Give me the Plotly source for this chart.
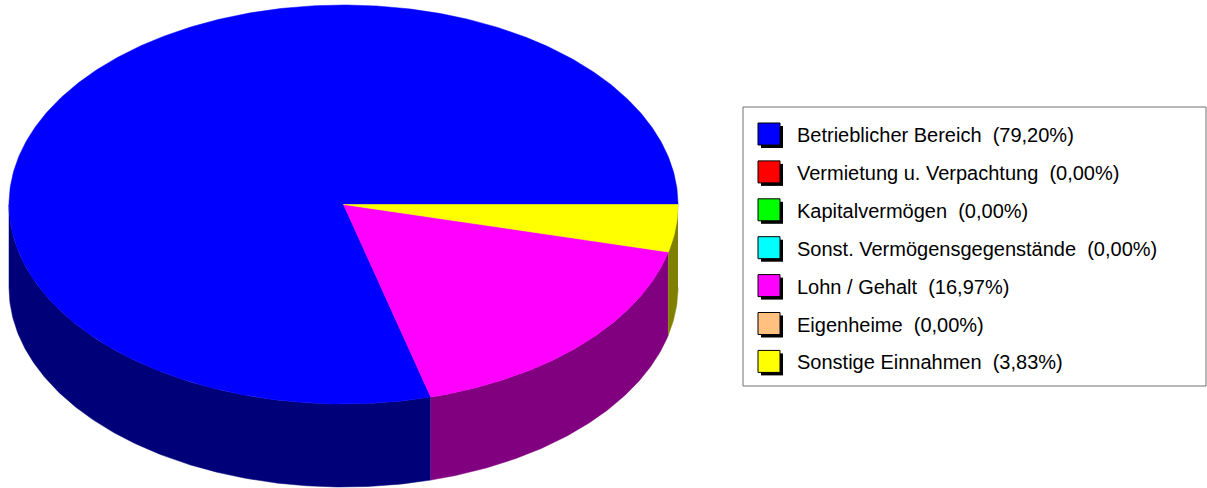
import numpy as np
import plotly.graph_objects as go

# ---- data ----
categories = ["Betrieblicher Bereich", "Vermietung u. Verpachtung", "Kapitalvermögen",
              "Sonst. Vermögensgegenstände", "Lohn / Gehalt", "Eigenheime", "Sonstige Einnahmen"]
values = [79.20, 0.00, 0.00, 0.00, 16.97, 0.00, 3.83]
top_colors = ["#0000FF", "#FF0000", "#00FF00", "#00FFFF", "#FF00FF", "#FFC080", "#FFFF00"]
side_colors = ["#000078", "#800000", "#008000", "#008080", "#800080", "#806040", "#808000"]

# ---- geometry (pixel space) ----
W, H = 1207, 488
cx, cy, rx, ry, depth = 343.5, 204.5, 334.5, 199.5, 83

fig = go.Figure()
total = sum(values)
fracs = [v / total for v in values]
cum = np.concatenate([[0], np.cumsum(fracs)])

def arc(t0, t1, n=None):
    if n is None:
        n = max(2, int(abs(t1 - t0) * 2) + 2)
    t = np.radians(np.linspace(t0, t1, n))
    return cx + rx * np.cos(t), cy + ry * np.sin(t)

# side walls (visible front half: 0..180 deg in screen param)
for i, f in enumerate(fracs):
    if f <= 0:
        continue
    a = -cum[i + 1] * 360
    b = -cum[i] * 360
    for shift in (360, 720, 0):
        lo, hi = max(a + shift, 0), min(b + shift, 180)
        if hi > lo:
            xs, ys = arc(lo, hi)
            px = np.concatenate([xs, xs[::-1]])
            py = np.concatenate([ys, ys[::-1] + depth])
            fig.add_trace(go.Scatter(x=px, y=py, fill="toself", mode="lines",
                                     line=dict(color=side_colors[i], width=0.5),
                                     fillcolor=side_colors[i], hoverinfo="skip",
                                     showlegend=False))

# top sectors
for i, f in enumerate(fracs):
    if f <= 0:
        continue
    a = -cum[i + 1] * 360
    b = -cum[i] * 360
    xs, ys = arc(a, b)
    px = np.concatenate([[cx], xs, [cx]])
    py = np.concatenate([[cy], ys, [cy]])
    fig.add_trace(go.Scatter(x=px, y=py, fill="toself", mode="lines",
                             line=dict(color=top_colors[i], width=0.5),
                             fillcolor=top_colors[i], hoverinfo="skip",
                             name=categories[i], showlegend=False))

# ---- legend (drawn) ----
shapes = []
annotations = []
lx0, ly0, lx1, ly1 = 743, 107, 1206, 386
shapes.append(dict(type="rect", xref="x", yref="y", x0=lx0, y0=ly0, x1=lx1, y1=ly1,
                   line=dict(color="#707070", width=1), fillcolor="rgba(0,0,0,0)"))
row0, step, sq = 134, 37.9, 22
for i, (c, v) in enumerate(zip(categories, values)):
    yc = row0 + i * step
    x0 = 758
    shapes.append(dict(type="rect", xref="x", yref="y", x0=x0 + 3, y0=yc - sq / 2 + 3,
                       x1=x0 + sq + 3, y1=yc + sq / 2 + 3, line=dict(width=0), fillcolor="black"))
    shapes.append(dict(type="rect", xref="x", yref="y", x0=x0, y0=yc - sq / 2,
                       x1=x0 + sq, y1=yc + sq / 2, line=dict(color="black", width=1),
                       fillcolor=top_colors[i]))
    label = f"{c}\u00a0\u00a0(" + f"{v:.2f}".replace(".", ",") + "%)"
    annotations.append(dict(x=795, y=yc + 1, xref="x", yref="y", text=label, showarrow=False,
                            xanchor="left", yanchor="middle",
                            font=dict(family="Liberation Sans, Arial, sans-serif", size=20, color="black")))

fig.update_layout(
    width=W, height=H, margin=dict(l=0, r=0, t=0, b=0),
    paper_bgcolor="white", plot_bgcolor="white",
    xaxis=dict(range=[0, W], visible=False, fixedrange=True),
    yaxis=dict(range=[H, 0], visible=False, fixedrange=True),
    shapes=shapes, annotations=annotations, showlegend=False,
)
fig.write_html("out.html", config={"displayModeBar": False},
               post_script="document.body.style.margin='0';document.body.style.overflow='hidden';")
